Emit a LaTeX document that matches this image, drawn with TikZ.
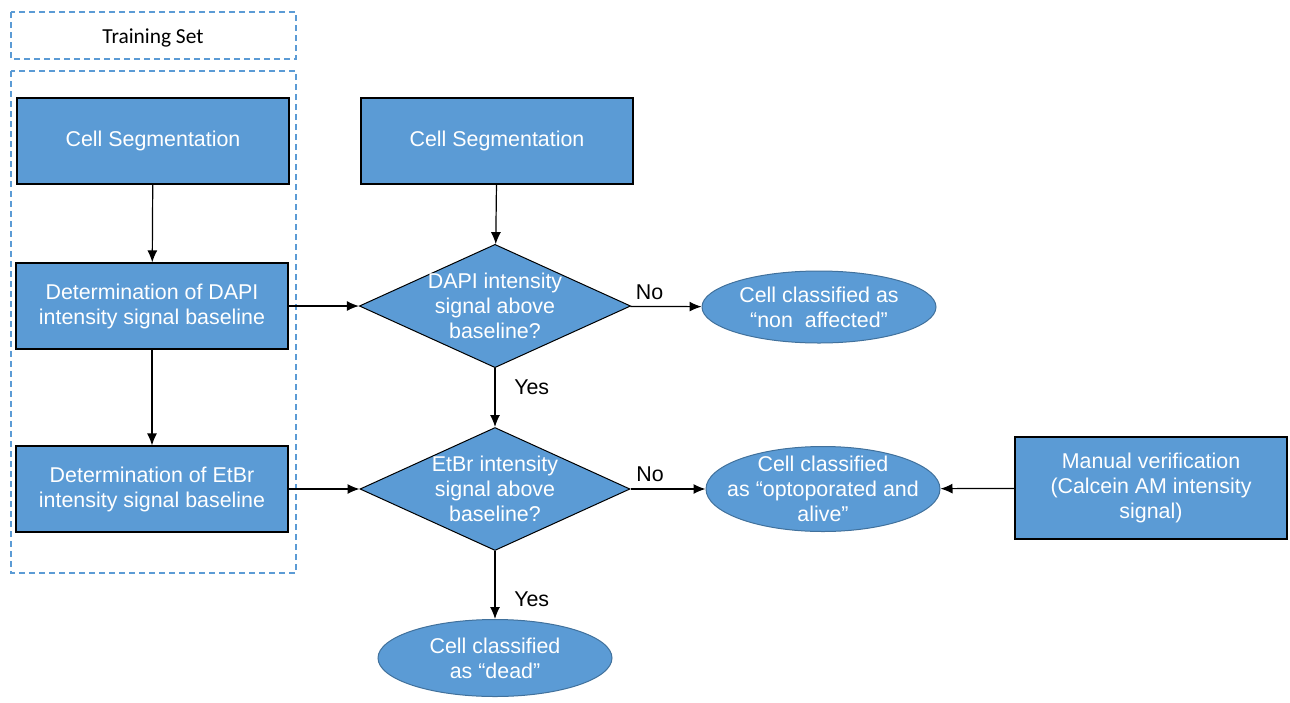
\documentclass[tikz,border=0pt]{standalone}
\usepackage{fontspec}
\setmainfont{Liberation Sans}
\newfontfamily\calibrifont{Carlito}
\usetikzlibrary{shapes.geometric, arrows.meta}
\definecolor{boxblue}{HTML}{5B9BD5}
\definecolor{rimblue}{HTML}{41719C}
\begin{document}
\begin{tikzpicture}[x=0.5pt, y=-0.5pt, font=\fontsize{10.7}{12.5}\selectfont,
    box/.style = {draw=black, line width=0.6pt, fill=boxblue, text=white, align=center, minimum width=136pt, minimum height=43pt, inner sep=2pt},
    decision/.style = {draw=black, line width=0.5pt, fill=boxblue, text=white, align=center, diamond, aspect=2.2, inner sep=-0.6pt, minimum width=135pt, minimum height=61.5pt},
    result/.style = {draw=rimblue, line width=0.5pt, fill=boxblue, ellipse, minimum width=117pt, minimum height=36pt, inner sep=0pt},
    frame/.style = {draw=boxblue, line width=0.7pt, dash pattern=on 3pt off 2pt},
    link/.style = {-{Latex[length=6pt, width=5pt]}, line width=0.6pt}]
  \useasboundingbox (0,0) rectangle (1290,702);
  % training set frames
  \draw[frame] (11,12) rectangle (296,59);
  \node (title) at (153,38) {\calibrifont Training Set};
  \draw[frame] (11,71) rectangle (296,573);
  % process boxes
  \node[box] (seg1) at (153,141) {Cell Segmentation};
  \node[box] (seg2) at (497,141) {Cell Segmentation};
  \node[box] (dapi) at (152,306) {Determination of DAPI\\intensity signal baseline};
  \node[box] (etbr) at (152,489) {Determination of EtBr\\intensity signal baseline};
  \node[box, minimum height=51pt] (manual) at (1151,488) {Manual verification\\(Calcein AM intensity\\signal)};
  % decisions
  \node[decision] (q1) at (495,306) {DAPI intensity\\signal above\\baseline?};
  \node[decision] (q2) at (495,489) {EtBr intensity\\signal above\\baseline?};
  % outcomes
  \node[result, label={[text=white, align=center]center:Cell classified as\\“non\ \ affected”}] (nonaff) at (819,307) {};
  \node[result, minimum height=42.5pt, label={[text=white, align=center]center:Cell classified\\as “optoporated and\\alive”}] (alive) at (823,489) {};
  \node[result, minimum height=38.5pt, label={[text=white, align=center]center:Cell classified\\as “dead”}] (dead) at (495,658) {};
  % connectors
  \draw[link] (seg1) -- (dapi);
  \draw[link] (dapi) -- (etbr);
  \draw[link] (seg2) -- (q1);
  \draw[link] (dapi) -- (q1);
  \draw[link] (q1) -- node[pos=.27, above] {No} (nonaff);
  \draw[link] (q1) -- node[pos=.32, right=6pt] {Yes} (q2);
  \draw[link] (etbr) -- (q2);
  \draw[link] (q2) -- node[pos=.26, above] {No} (alive);
  \draw[link] (manual) -- (alive);
  \draw[link] (q2) -- node[pos=.71, right=6pt] {Yes} (dead);
\end{tikzpicture}
\end{document}
